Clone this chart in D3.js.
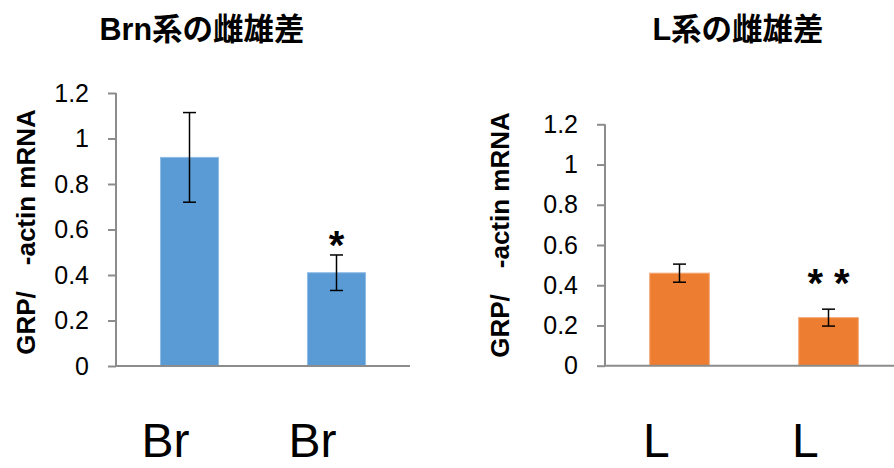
<!DOCTYPE html>
<html><head><meta charset="utf-8">
<script src="https://cdn.jsdelivr.net/npm/d3@7"></script>
<style>
html,body{margin:0;padding:0;background:#fff;}
text{font-family:"Liberation Sans",Arial,"Noto Sans CJK JP",sans-serif;}
</style></head>
<body>
<svg id="chart" width="894" height="468"></svg>
<script>
// ---- data ----
const titles = ["Brn系の雌雄差", "L系の雌雄差"];
const yLabel = "GRP/\u3000-actin mRNA";
const catsBrn = ["Br\u3000", "Br\u3000"];
const catsL = ["L\u3000", "L\u3000"];
const valuesBrn = [0.917, 0.41];
const errorsBrn = [0.197, 0.078];
const valuesL = [0.46, 0.239];
const errorsL = [0.045, 0.042];
const sigBrn = ["", "*"];
const sigL = ["", "* *"];
const yTicks = [0, 0.2, 0.4, 0.6, 0.8, 1, 1.2];
const yTickLabels = ["0", "0.2", "0.4", "0.6", "0.8", "1", "1.2"];
const colors = ["#5B9BD5", "#ED7D31"];

const svg = d3.select("#chart");

const panels = [
  {title: titles[0], cats: catsBrn, vals: valuesBrn, errs: errorsBrn, sig: sigBrn, color: colors[0], edge:"#8fbce6",
   x0: 116, x1: 410, yb: 366, yt: 93, titleX: 202, labelX: 35, labelY: 232, starOff: 16, barFrac: 0.395},
  {title: titles[1], cats: catsL, vals: valuesL, errs: errorsL, sig: sigL, color: colors[1], edge:"#f5a877",
   x0: 605, x1: 903, yb: 365.7, yt: 124.3, titleX: 738, labelX: 509, labelY: 235, starOff: 32, barFrac: 0.40}
];

panels.forEach(p => {
  const g = svg.append("g");
  const x = d3.scaleBand().domain(d3.range(p.vals.length)).range([p.x0, p.x1]).padding(0);
  const y = d3.scaleLinear().domain([0, 1.2]).range([p.yb, p.yt]);
  const bw = x.bandwidth() * p.barFrac;
  const cx = i => x(i) + x.bandwidth() / 2;

  // title
  g.append("text").attr("x", p.titleX).attr("y", 40).attr("text-anchor", "middle")
    .attr("font-size", 30.5).attr("font-weight", "bold").attr("fill", "#000").text(p.title);

  // y label
  g.append("text").attr("transform", `translate(${p.labelX},${p.labelY}) rotate(-90)`)
    .attr("text-anchor", "middle").attr("font-size", 26).attr("font-weight", "bold")
    .attr("fill", "#000").text(yLabel);

  // bars
  g.selectAll("rect.bar").data(p.vals).enter().append("rect")
    .attr("x", (d, i) => cx(i) - bw / 2)
    .attr("width", bw)
    .attr("y", d => y(d))
    .attr("height", d => y(0) - y(d))
    .attr("fill", p.color)
    .attr("stroke", p.edge).attr("stroke-width", 1);

  // error bars
  const eb = g.selectAll("g.err").data(p.vals).enter().append("g");
  const cap = 6.5;
  eb.append("line")
    .attr("x1", (d, i) => cx(i)).attr("x2", (d, i) => cx(i))
    .attr("y1", (d, i) => y(d + p.errs[i])).attr("y2", (d, i) => y(d - p.errs[i]))
    .attr("stroke", "#000").attr("stroke-width", 1.5);
  eb.append("line")
    .attr("x1", (d, i) => cx(i) - cap).attr("x2", (d, i) => cx(i) + cap)
    .attr("y1", (d, i) => y(d + p.errs[i])).attr("y2", (d, i) => y(d + p.errs[i]))
    .attr("stroke", "#000").attr("stroke-width", 1.5);
  eb.append("line")
    .attr("x1", (d, i) => cx(i) - cap).attr("x2", (d, i) => cx(i) + cap)
    .attr("y1", (d, i) => y(d - p.errs[i])).attr("y2", (d, i) => y(d - p.errs[i]))
    .attr("stroke", "#000").attr("stroke-width", 1.5);

  // significance marks (asterisk glyph sits high in the em box: offset baseline)
  g.selectAll("text.sig").data(p.sig).enter().append("text")
    .attr("x", (d, i) => cx(i))
    .attr("y", (d, i) => y(p.vals[i] + p.errs[i]) - p.starOff + 20)
    .attr("text-anchor", "middle").attr("font-size", 40).attr("font-weight", "bold")
    .attr("fill", "#000").attr("xml:space", "preserve").text(d => d);

  // y axis
  const yAxis = d3.axisLeft(y).tickValues(yTicks).tickFormat((d, i) => yTickLabels[i])
    .tickSize(8).tickPadding(19);
  const ya = g.append("g").attr("transform", `translate(${p.x0},0)`).call(yAxis);
  ya.attr("font-size", 25).attr("font-family", "'Liberation Sans', Arial, sans-serif");
  ya.select(".domain").attr("d", `M0,${p.yb}V${p.yt}`).attr("stroke", "#8c8c8c").attr("stroke-width", 2);
  ya.selectAll(".tick line").attr("stroke", "#8c8c8c").attr("stroke-width", 2);
  ya.selectAll(".tick text").style("font-size", "25px").attr("fill", "#000");

  // x axis baseline
  g.append("line").attr("x1", p.x0).attr("x2", p.x1).attr("y1", p.yb).attr("y2", p.yb)
    .attr("stroke", "#8c8c8c").attr("stroke-width", 2);

  // category labels
  g.selectAll("text.cat").data(p.cats).enter().append("text")
    .attr("x", (d, i) => cx(i))
    .attr("y", 457).attr("text-anchor", "middle").attr("font-size", 48)
    .attr("fill", "#000").text(d => d);
});
</script>
</body></html>
